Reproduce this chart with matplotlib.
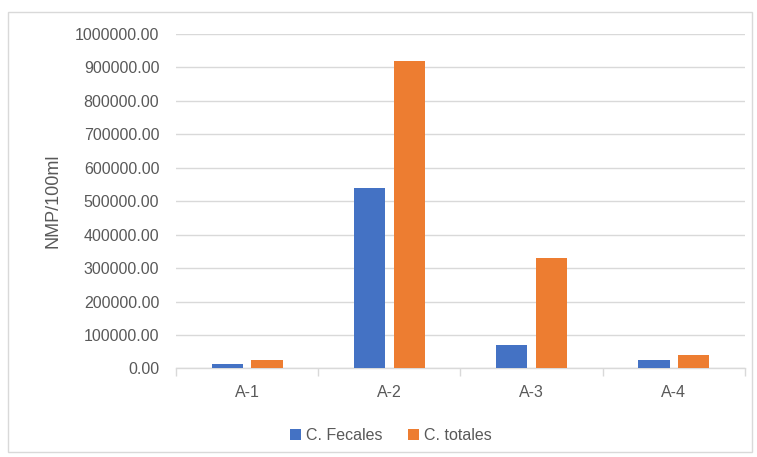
import numpy as np
import matplotlib.pyplot as plt
from matplotlib.patches import Rectangle

sitios = ['A-1', 'A-2', 'A-3', 'A-4']
fecales = [14000, 540000, 69000, 25000]
totales = [25000, 920000, 330000, 40000]

azul = '#4472c4'
naranja = '#ed7d31'
gris = '#d9d9d9'
texto = '#595959'

plt.rcParams['font.family'] = ['Liberation Sans', 'DejaVu Sans']

fig = plt.figure(figsize=(7.57, 4.57), dpi=100)
ax = fig.add_axes([0.2325, 0.1937, 0.7515, 0.7319])

x = np.arange(len(sitios))
w = 0.22
ax.bar(x - 0.14, fecales, w, color=azul, label='C. Fecales', zorder=3)
ax.bar(x + 0.14, totales, w, color=naranja, label='C. totales', zorder=3)

ax.set_xlim(-0.5, len(sitios) - 0.5)
ax.set_ylim(0, 1000000)
ax.set_yticks(np.arange(0, 1000001, 100000))
ax.set_yticklabels([f'{v:.2f}' for v in np.arange(0, 1000001, 100000)])
ax.set_xticks(x)
ax.set_xticklabels(sitios)
ax.grid(axis='y', color=gris, linewidth=1, zorder=0)

for s in ['top', 'right', 'left']:
    ax.spines[s].set_visible(False)
ax.spines['bottom'].set_color(gris)
ax.spines['bottom'].set_linewidth(1)

ax.tick_params(axis='y', length=0, pad=12, labelsize=11.5, labelcolor=texto)
ax.tick_params(axis='x', length=0, pad=12, labelsize=11.5, labelcolor=texto)
# separadores entre categorias
ax.set_xticks(np.arange(-0.5, len(sitios), 1), minor=True)
ax.tick_params(axis='x', which='minor', length=6, color=gris, width=1)

ax.set_ylabel('NMP/100ml', fontsize=13, color=texto, labelpad=10)

fig.legend(*ax.get_legend_handles_labels(), loc='center', bbox_to_anchor=(0.516, 0.046),
           ncol=2, frameon=False, fontsize=11.5, labelcolor=texto, handlelength=0.7,
           handleheight=0.7, handletextpad=0.3, columnspacing=1.6)

fig.patches.append(Rectangle((0.011, 0.011), 0.982, 0.962, transform=fig.transFigure,
                             fill=False, edgecolor=gris, linewidth=1))

fig.savefig('out.png', dpi=100)
